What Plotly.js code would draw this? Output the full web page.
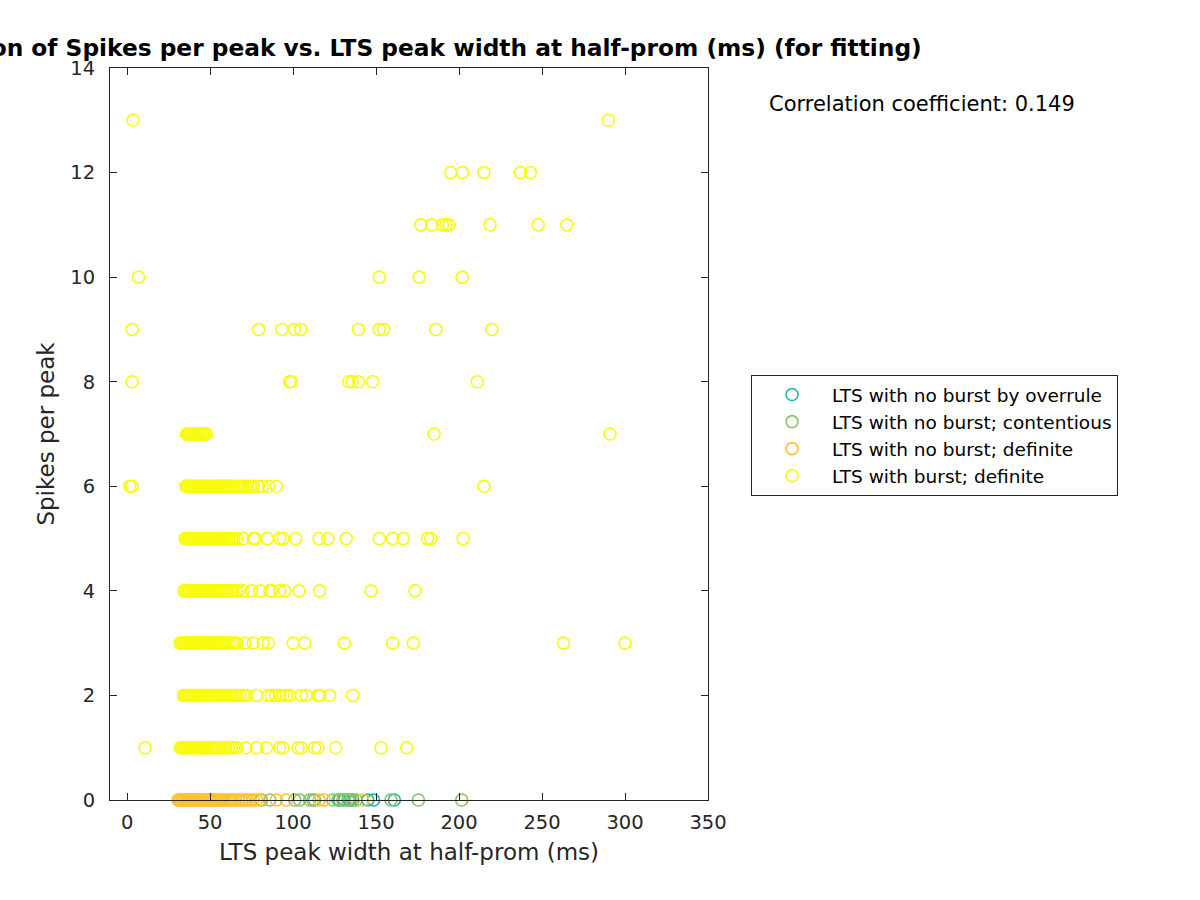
<!DOCTYPE html>
<html>
<head>
<meta charset="utf-8">
<script src="https://cdn.plot.ly/plotly-3.0.1.min.js"></script>
<style>
  body { margin: 0; background: #fff; }
  #plot { width: 1200px; height: 900px; }
</style>
</head>
<body>
<div id="plot"></div>
<script>
// LTS peak widths (ms) of bursting LTSs, grouped by spikes per peak
const burst1 = [10.8, 32.0, 32.9, 33.8, 34.7, 35.6, 36.5, 37.4, 38.3, 39.2, 40.1, 41.0, 41.9, 42.8, 43.8, 44.7,
  45.7, 46.7, 47.7, 48.7, 49.8, 50.9, 52.0, 53.1, 54.3, 55.5, 56.8, 58.1, 59.5, 61.0, 62.6, 64.3, 66.0,
  71.5, 78.0, 84.0, 92.0, 94.0, 103.0, 105.0, 113.0, 115.0, 125.7, 153.0, 168.5];
const burst2 = [34.0, 34.9, 35.8, 36.7, 37.6, 38.5, 39.4, 40.3, 41.2, 42.1, 43.0, 43.9, 44.9, 45.8, 46.8, 47.8,
  48.8, 49.8, 50.9, 52.0, 53.1, 54.2, 55.4, 56.6, 57.8, 59.1, 60.4, 61.8, 63.2, 64.7, 66.3, 68.0, 70.0,
  72.0, 78.0, 85.0, 87.0, 89.5, 92.0, 94.0, 96.0, 98.0, 105.0, 108.0, 115.0, 116.2, 122.0, 136.0];
const burst3 = [32.0, 32.9, 33.8, 34.7, 35.6, 36.5, 37.4, 38.3, 39.2, 40.1, 41.0, 41.9, 42.8, 43.7, 44.7, 45.6,
  46.6, 47.6, 48.6, 49.6, 50.7, 51.8, 52.9, 54.0, 55.2, 56.4, 57.7, 59.0, 60.4, 61.9, 63.4, 64.8,
  66.0, 71.0, 76.0, 82.0, 85.0, 100.0, 107.0, 131.0, 160.0, 172.5, 263.0, 300.0];
const burst4 = [34.2, 35.0, 35.9, 36.8, 37.6, 38.5, 39.4, 40.3, 41.2, 42.1, 43.0, 43.9, 44.8, 45.8, 46.7, 47.7,
  48.6, 49.6, 50.6, 51.6, 52.7, 53.8, 54.9, 56.0, 57.2, 58.4, 59.7, 61.0, 62.4, 63.9, 65.5, 67.0,
  70.0, 75.0, 80.0, 86.0, 87.2, 92.0, 95.0, 103.6, 116.0, 147.0, 173.5];
const burst5 = [35.0, 35.8, 36.7, 37.5, 38.4, 39.2, 40.1, 41.0, 41.8, 42.7, 43.6, 44.5, 45.4, 46.3, 47.2, 48.1,
  49.1, 50.0, 51.0, 52.0, 53.0, 54.1, 55.2, 56.3, 57.5, 58.7, 60.0, 61.4, 62.8, 64.3, 66.0,
  70.0, 76.0, 77.2, 84.5, 92.0, 94.0, 101.6, 115.7, 121.0, 132.0, 152.0, 160.0, 166.4, 181.0, 183.0, 202.5];
const burst6 = [1.6, 2.9, 35.4, 36.3, 37.1, 38.0, 38.8, 39.7, 40.5, 41.4, 42.2, 43.1, 44.0, 44.9, 45.7, 46.6,
  47.5, 48.4, 49.3, 50.2, 51.1, 52.0, 53.0, 53.9, 54.8, 55.8, 56.7, 57.7, 58.8, 59.8, 60.9, 62.0, 63.1,
  64.3, 65.5, 66.8, 68.1, 69.5, 71.0, 72.6, 74.3, 76.0, 79.0, 81.5, 85.2, 90.0, 215.0];
const burst7 = [35.8, 36.6, 37.3, 38.1, 38.9, 39.6, 40.4, 41.2, 42.1, 42.9, 43.8, 44.7, 45.6, 46.7, 47.8, 185.0, 291.0];
const burst8 = [3.1, 98.0, 99.0, 133.5, 135.7, 139.5, 148.0, 211.0];
const burst9 = [3.1, 79.3, 93.3, 100.8, 104.6, 139.4, 151.9, 154.5, 186.0, 219.8];
const burst10 = [6.9, 152.0, 176.0, 202.0];
const burst11 = [177.0, 183.6, 190.0, 192.2, 194.0, 218.7, 247.7, 265.0];
const burst12 = [195.0, 202.0, 215.0, 237.0, 243.0];
const burst13 = [3.6, 290.0];

// LTSs without burst (spikes per peak = 0)
const noBurstDefinite = [30.7, 31.6, 32.5, 33.4, 34.3, 35.2, 36.1, 37.0, 37.9, 38.8, 39.7, 40.6, 41.5, 42.4,
  43.3, 44.2, 45.2, 46.1, 47.1, 48.0, 49.0, 50.0, 51.0, 52.0, 53.1, 54.2, 55.3, 56.4, 57.6, 58.8, 60.0,
  61.3, 62.6, 64.0, 65.5, 67.0, 68.6, 70.3, 72.1, 74.0, 76.0, 78.0, 80.0, 90.0, 96.0, 115.7, 118.7, 142.0];
const noBurstContentious = [81.0, 86.0, 101.0, 104.0, 110.0, 112.0, 113.0, 124.0, 127.0, 130.0, 133.0,
  135.0, 138.0, 159.0, 175.5, 201.6];
const noBurstOverrule = [128.0, 131.0, 134.0, 136.0, 145.0, 148.5, 161.0];

const burstRows = [burst1, burst2, burst3, burst4, burst5, burst6, burst7, burst8, burst9, burst10, burst11, burst12, burst13];
const burstX = [];
const burstY = [];
burstRows.forEach((row, i) => {
  row.forEach((w) => {
    burstX.push(w);
    burstY.push(i + 1);
  });
});

const font = 'DejaVu Sans, sans-serif';
const ink = '#262626';

function series (name, x, y, color) {
  return {
    type: 'scatter',
    mode: 'markers',
    name: name,
    x: x,
    y: y,
    cliponaxis: false,
    marker: {
      symbol: 'circle-open',
      size: 12,
      color: color,
      line: { width: 1.6, color: color }
    }
  };
}

const data = [
  series('LTS with no burst by overrule', noBurstOverrule, noBurstOverrule.map(() => 0), '#20B5A5'),
  series('LTS with no burst; contentious', noBurstContentious, noBurstContentious.map(() => 0), '#8AC26C'),
  series('LTS with no burst; definite', noBurstDefinite, noBurstDefinite.map(() => 0), '#FEC231'),
  series('LTS with burst; definite', burstX, burstY, '#F9FB0E')
];

const axisStyle = {
  showline: true,
  linecolor: ink,
  linewidth: 1,
  mirror: 'ticks',
  ticks: 'inside',
  ticklen: 7,
  tickcolor: ink,
  showgrid: false,
  zeroline: false,
  tickfont: { family: font, size: 19.5, color: ink }
};

const layout = {
  width: 1200,
  height: 900,
  paper_bgcolor: '#fff',
  plot_bgcolor: '#fff',
  showlegend: true,
  margin: { l: 110, r: 492, t: 68, b: 100 },
  title: {
    text: 'Correlation of Spikes per peak vs. LTS peak width at half-prom (ms) (for fitting)',
    font: { family: font, size: 23.3, color: '#000', weight: 'bold' },
    x: 0.483,
    xref: 'paper',
    xanchor: 'center',
    y: 0.947,
    yref: 'container',
    yanchor: 'middle'
  },
  xaxis: Object.assign({}, axisStyle, {
    range: [-10.3, 350],
    tick0: 0,
    dtick: 50,
    ticklabelstandoff: 5,
    title: { text: 'LTS peak width at half-prom (ms)', font: { family: font, size: 23, color: ink }, standoff: 10 }
  }),
  yaxis: Object.assign({}, axisStyle, {
    range: [0, 14],
    tick0: 0,
    dtick: 2,
    ticklabelstandoff: 10,
    title: { text: 'Spikes per peak', font: { family: font, size: 23, color: ink }, standoff: 9 }
  }),
  legend: {
    x: 1.072,
    y: 0.5806,
    xanchor: 'left',
    yanchor: 'top',
    bgcolor: '#fff',
    bordercolor: ink,
    borderwidth: 1,
    itemwidth: 70,
    font: { family: font, size: 18.5, color: '#000' },
    itemclick: false
  },
  annotations: [{
    xref: 'paper',
    yref: 'paper',
    x: 1.099,
    y: 0.951,
    xanchor: 'left',
    yanchor: 'middle',
    showarrow: false,
    text: 'Correlation coefficient: 0.149',
    font: { family: font, size: 21, color: '#000' }
  }]
};

Plotly.newPlot('plot', data, layout, { displayModeBar: false, staticPlot: true });
</script>
</body>
</html>
